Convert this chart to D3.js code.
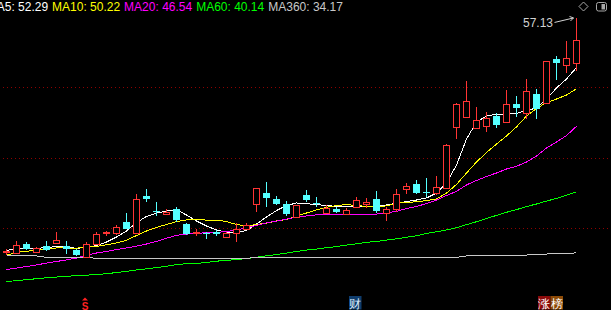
<!DOCTYPE html>
<html>
<head>
<meta charset="utf-8">
<script src="https://cdn.jsdelivr.net/npm/d3@7/dist/d3.min.js"></script>
<style>
  html, body { margin: 0; padding: 0; background: #000; overflow: hidden; }
  svg { display: block; }
  text { font-family: "Liberation Sans", Arial, sans-serif; }
</style>
</head>
<body>
<svg id="kline" width="611" height="310"></svg>
<script>
// Daily prices (one entry per trading day)
const opens  = [34.31, 34.16, 35.04, 34.29, 34.84, 35.14, 34.84, 34.45, 33.80, 35.04,
                36.09, 36.09, 37.19, 36.09, 39.73, 38.31, 37.94, 38.46, 37.02, 36.11,
                36.14, 36.24, 35.75, 36.14, 36.53, 38.98, 40.02, 39.44, 38.95, 37.68,
                39.83, 39.08, 38.10, 38.46, 38.00, 38.69, 38.98, 39.44, 38.04, 38.43,
                40.39, 40.87, 40.12, 39.99, 40.56, 46.51, 47.48, 46.41, 46.60, 47.58,
                46.99, 48.72, 47.87, 49.70, 48.79, 53.12, 52.51, 52.70];
const closes = [34.35, 34.99, 34.58, 34.68, 34.45, 35.40, 34.55, 33.96, 35.04, 35.99,
                36.24, 36.73, 36.53, 39.41, 39.47, 38.26, 38.17, 37.38, 36.02, 36.24,
                36.02, 35.99, 36.09, 36.48, 36.87, 40.48, 39.56, 38.95, 38.00, 38.85,
                39.34, 38.95, 38.59, 38.14, 38.36, 39.34, 39.12, 38.26, 38.46, 39.93,
                40.71, 39.99, 40.05, 40.58, 44.72, 48.72, 49.02, 47.16, 47.33, 46.67,
                48.69, 48.36, 49.99, 48.21, 52.90, 52.70, 53.19, 54.95];
const highs  = [34.55, 35.33, 35.23, 34.77, 35.33, 36.21, 35.33, 34.52, 35.21, 36.18,
                36.34, 36.93, 38.04, 39.93, 40.42, 39.12, 38.49, 38.66, 37.12, 36.48,
                36.24, 36.41, 36.24, 37.06, 37.12, 40.51, 41.07, 39.73, 39.21, 38.90,
                40.32, 39.60, 38.85, 38.69, 38.59, 39.60, 39.56, 40.22, 38.63, 40.39,
                40.97, 41.29, 41.49, 41.69, 44.77, 48.85, 50.97, 48.46, 47.97, 47.81,
                50.09, 49.51, 51.17, 50.19, 52.93, 53.42, 54.88, 57.13];
const lows   = [33.96, 34.06, 34.45, 34.23, 34.38, 35.09, 34.06, 33.87, 33.77, 34.99,
                35.85, 35.92, 36.51, 36.05, 39.12, 37.81, 37.92, 37.16, 35.92, 35.85,
                35.50, 35.85, 35.65, 35.26, 36.41, 38.20, 38.69, 38.85, 37.78, 37.65,
                39.12, 38.69, 37.94, 38.04, 37.97, 38.59, 38.59, 38.04, 37.32, 38.20,
                39.90, 39.90, 39.63, 39.83, 40.51, 45.30, 47.38, 46.38, 46.02, 46.41,
                46.96, 47.48, 47.23, 47.26, 48.77, 51.07, 51.72, 51.98];

// Moving averages
const ma5   = [34.40, 34.60, 34.60, 34.60, 34.70, 34.78, 34.75, 34.62, 34.70, 34.89,
               35.23, 35.72, 36.31, 37.14, 37.73, 38.07, 38.26, 38.41, 37.87, 37.29,
               36.80, 36.41, 36.21, 36.14, 36.36, 36.99, 37.68, 38.31, 38.80, 39.05,
               38.98, 38.90, 38.80, 38.72, 38.69, 38.69, 38.72, 38.75, 38.85, 39.02,
               39.19, 39.34, 39.54, 40.02, 41.00, 42.76, 45.30, 46.96, 47.55, 47.72,
               47.72, 47.80, 48.09, 48.33, 49.21, 50.29, 51.17, 52.29];
const ma10  = [33.96, 34.21, 34.34, 34.41, 34.53, 34.65, 34.66, 34.63, 34.73, 34.81,
               34.96, 35.14, 35.40, 35.87, 36.31, 36.67, 36.95, 37.22, 37.40, 37.43,
               37.38, 37.38, 37.24, 36.94, 36.80, 36.94, 37.09, 37.29, 37.43, 37.75,
               38.07, 38.38, 38.63, 38.80, 38.90, 38.80, 38.71, 38.68, 38.77, 39.02,
               39.10, 39.17, 39.29, 39.44, 40.02, 40.86, 41.98, 43.05, 43.98, 44.81,
               45.60, 46.48, 47.55, 48.28, 48.87, 49.21, 49.60, 50.22];
const ma20  = [32.55, 32.69, 32.84, 32.99, 33.18, 33.33, 33.49, 33.67, 33.93, 34.16,
               34.31, 34.50, 34.65, 34.84, 35.04, 35.30, 35.60, 35.89, 36.01, 36.07,
               36.15, 36.18, 36.26, 36.41, 36.62, 36.87, 37.11, 37.28, 37.48, 37.65,
               37.78, 37.89, 37.94, 37.94, 37.94, 37.94, 37.94, 37.97, 38.10, 38.22,
               38.51, 38.70, 39.00, 39.34, 39.78, 40.19, 40.81, 41.25, 41.64, 41.98,
               42.37, 42.63, 43.05, 43.64, 44.42, 45.01, 45.64, 46.54];
const ma60  = [31.37, 31.46, 31.55, 31.65, 31.74, 31.81, 31.88, 31.95, 32.00, 32.05,
               32.14, 32.25, 32.36, 32.50, 32.62, 32.74, 32.87, 33.02, 33.12, 33.15,
               33.23, 33.36, 33.45, 33.51, 33.62, 33.75, 33.89, 34.01, 34.16, 34.31,
               34.45, 34.55, 34.68, 34.79, 34.94, 35.06, 35.20, 35.29, 35.43, 35.55,
               35.70, 35.85, 36.07, 36.23, 36.41, 36.63, 36.93, 37.22, 37.53, 37.84,
               38.14, 38.40, 38.70, 38.95, 39.24, 39.49, 39.80, 40.14];
const ma360 = [33.87, 33.87, 33.87, 33.87, 33.74, 33.74, 33.74, 33.74, 33.74, 33.64,
               33.64, 33.64, 33.64, 33.64, 33.64, 33.64, 33.64, 33.64, 33.64, 33.64,
               33.64, 33.64, 33.64, 33.64, 33.64, 33.74, 33.74, 33.74, 33.74, 33.74,
               33.74, 33.74, 33.74, 33.74, 33.74, 33.74, 33.74, 33.74, 33.74, 33.74,
               33.74, 33.74, 33.74, 33.74, 33.74, 33.74, 33.87, 33.87, 33.87, 33.87,
               33.96, 33.96, 33.96, 34.06, 34.06, 34.13, 34.13, 34.17];

const maNames  = ['MA5', 'MA10', 'MA20', 'MA60', 'MA360'];
const maSeries = [ma5, ma10, ma20, ma60, ma360];
const maColors = ['#ffffff', '#ffff00', '#ff00ff', '#00ff00', '#c8c8c8'];

const gridPrices = [50.39, 43.45, 36.60];

// bottom event tags: candle index + label
const tagDays   = [8, 35, 54];
const tagLabels = ['S', '财', '涨榜'];

const upColor = '#ff3434';
const downColor = '#54ffff';

const svg = d3.select('#kline');
const width = 611;

const days = d3.range(opens.length);

const x = d3.scaleBand()
    .domain(days)
    .range([1.5, 581.5])
    .paddingInner(0.3)
    .paddingOuter(0.15);
const xc = i => x(i) + x.bandwidth() / 2;

const y = d3.scaleLinear()
    .domain([32.5, 57.42])
    .range([270, 15]);
const py = v => Math.round(y(v)) + 0.5;

// dotted grid
svg.append('g')
    .selectAll('line')
    .data(gridPrices)
    .enter()
    .append('line')
    .attr('x1', 3)
    .attr('x2', width)
    .attr('y1', d => py(d))
    .attr('y2', d => py(d))
    .attr('stroke', '#8e0000')
    .attr('stroke-dasharray', '1,3')
    .attr('shape-rendering', 'crispEdges');

// moving average lines (drawn under candles)
const line = d3.line()
    .x((d, i) => xc(i))
    .y(d => y(d));

svg.append('g')
    .selectAll('path')
    .data(maSeries)
    .enter()
    .append('path')
    .attr('d', d => line(d))
    .attr('fill', 'none')
    .attr('stroke', (d, i) => maColors[i])
    .attr('stroke-width', 1)
    .attr('shape-rendering', 'crispEdges');

// candles
const candles = days.map(i => ({ i, o: opens[i], c: closes[i], h: highs[i], l: lows[i] }));
const cg = svg.append('g').attr('shape-rendering', 'crispEdges');

candles.forEach(d => {
    const up = d.c >= d.o;
    const cx = xc(d.i);
    const top = Math.round(y(Math.max(d.o, d.c)));
    const bot = Math.round(y(Math.min(d.o, d.c)));
    const hi = Math.round(y(d.h));
    const lo = Math.round(y(d.l));
    if (up) {
        if (hi < top) cg.append('line').attr('x1', cx).attr('x2', cx).attr('y1', hi).attr('y2', top).attr('stroke', upColor);
        if (lo > bot) cg.append('line').attr('x1', cx).attr('x2', cx).attr('y1', bot).attr('y2', lo).attr('stroke', upColor);
        cg.append('rect')
            .attr('x', cx - 3)
            .attr('y', top + 0.5)
            .attr('width', 6)
            .attr('height', Math.max(bot - top, 1))
            .attr('fill', '#000')
            .attr('stroke', upColor);
    } else {
        cg.append('line').attr('x1', cx).attr('x2', cx).attr('y1', hi).attr('y2', lo).attr('stroke', downColor);
        cg.append('rect')
            .attr('x', cx - 3.5)
            .attr('y', top)
            .attr('width', 7)
            .attr('height', Math.max(bot - top, 1))
            .attr('fill', downColor);
    }
});

// legend
let lx = -13.3;
maNames.forEach((name, i) => {
    const vals = maSeries[i];
    const t = svg.append('text')
        .attr('x', lx)
        .attr('y', 11)
        .attr('font-size', 12)
        .attr('fill', maColors[i])
        .text(name + ': ' + vals[vals.length - 1].toFixed(2));
    lx += t.node().getComputedTextLength() + 4;
});

// highest price marker
const last = highs.length - 1;
const hx = xc(last) - 3, hy = y(highs[last]);
svg.append('text')
    .attr('x', hx - 20.5)
    .attr('y', hy + 9)
    .attr('font-size', 12)
    .attr('text-anchor', 'end')
    .attr('fill', '#d2d2d2')
    .text(highs[last].toFixed(2));
svg.append('line')
    .attr('x1', hx - 19).attr('y1', hy + 4.5)
    .attr('x2', hx).attr('y2', hy)
    .attr('stroke', '#d2d2d2');
svg.append('path')
    .attr('d', `M${hx - 4},${hy - 1.5}L${hx},${hy}L${hx - 3},${hy + 3}`)
    .attr('fill', 'none')
    .attr('stroke', '#d2d2d2');

// top-right icons
svg.append('path')
    .attr('d', 'M583.5,2L588,6.5L583.5,11L579,6.5Z')
    .attr('fill', 'none')
    .attr('stroke', '#a8a8a8');
svg.append('rect')
    .attr('x', 596.5).attr('y', 2.5).attr('width', 10).attr('height', 8.5).attr('rx', 2)
    .attr('fill', 'none').attr('stroke', '#a8a8a8');
svg.append('rect')
    .attr('x', 601.5).attr('y', 4).attr('width', 3.5).attr('height', 5.5)
    .attr('fill', '#a8a8a8');

// bottom tags
tagDays.forEach((di, k) => {
    const label = tagLabels[k];
    const cx = xc(di);
    if (label === 'S') {
        svg.append('path')
            .attr('d', `M${cx - 1.5},297.5L${cx + 1.5},300.5L${cx - 4.5},300.5Z`)
            .attr('fill', '#ff2020');
        svg.append('text')
            .attr('x', cx - 1.5).attr('y', 309.5)
            .attr('font-size', 10).attr('font-weight', 'bold')
            .attr('text-anchor', 'middle')
            .attr('fill', '#ff2020')
            .text('S');
    } else {
        const chars = label.split('');
        const bgs = label === '财' ? ['#0f3c6c'] : ['#8a0a0a', '#8c4a06'];
        const x0 = label === '财' ? cx - 7.5 : cx - 8.5;
        chars.forEach((ch, j) => {
            svg.append('rect')
                .attr('x', x0 + j * 12.5).attr('y', 296)
                .attr('width', 12.5).attr('height', 13.5)
                .attr('fill', bgs[j]);
            svg.append('text')
                .attr('x', x0 + j * 12.5 + 6.25).attr('y', 307.5)
                .attr('font-size', 12)
                .attr('font-family', '"Noto Sans CJK SC", sans-serif')
                .attr('text-anchor', 'middle')
                .attr('fill', label === '财' ? '#d8e8f8' : '#ffffff')
                .text(ch);
        });
    }
});
</script>
</body>
</html>
